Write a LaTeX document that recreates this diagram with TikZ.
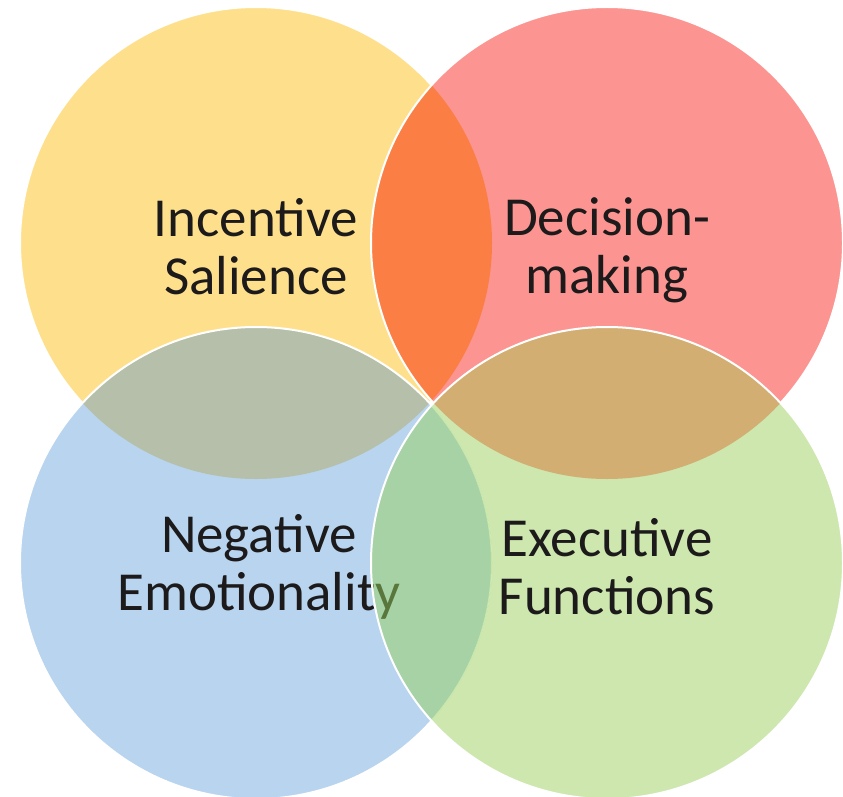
\documentclass[tikz,border=0pt]{standalone}
\usepackage{fontspec}
\setmainfont{Carlito}
\definecolor{cyellow}{HTML}{FEE08C}
\definecolor{cred}{HTML}{FC9591}
\definecolor{corange}{HTML}{FB7F45}
\definecolor{cblue}{HTML}{B8D4EE}
\definecolor{cgrey}{HTML}{B6BFA9}
\definecolor{cgreen}{HTML}{CDE7AF}
\definecolor{ctan}{HTML}{D2AE72}
\definecolor{cveil}{RGB}{150,210,94}
\definecolor{ctext}{HTML}{1C1A1A}
\begin{document}
\begin{tikzpicture}[x=1pt,y=-1pt,
  rim/.style={draw=white,line width=2pt},
  label/.style={align=center,text=ctext,font=\fontsize{55}{58}\selectfont,inner sep=0pt}]
\useasboundingbox[fill=white] (0,0) rectangle (843,797);
\def\R{236}
\coordinate (cy) at (256,243);
\coordinate (cr) at (607,243);
\coordinate (cb) at (256,563);
\coordinate (cg) at (607,563);
% yellow
\fill[cyellow] (cy) circle (\R);
\draw[rim] (cy) circle (\R);
% red
\fill[cred] (cr) circle (\R);
\begin{scope}\clip (cy) circle (\R); \fill[corange] (cr) circle (\R);\end{scope}
\draw[rim] (cr) circle (\R);
% blue
\fill[cblue] (cb) circle (\R);
\begin{scope}\clip (cy) circle (\R); \fill[cgrey] (cb) circle (\R);\end{scope}
\draw[rim] (cb) circle (\R);
% label of the blue circle, partly under the translucent green circle
\node[label] (neg) at (259,567) {Negative\\Emotionality};
% green
\begin{scope}[even odd rule]
  \clip (-10,-10) rectangle (853,807) (cb) circle (\R);
  \fill[cgreen] (cg) circle (\R);
\end{scope}
\begin{scope}\clip (cb) circle (\R); \fill[cveil,opacity=0.5] (cg) circle (\R);\end{scope}
\begin{scope}\clip (cr) circle (\R); \fill[ctan] (cg) circle (\R);\end{scope}
\draw[rim] (cg) circle (\R);
% other labels
\node[label] (inc) at (256,247) {Incentive\\Salience};
\node[label] (dec) at (607,250) {Decision-\\making};
\node[label] (exe) at (607,567) {Executive\\Functions};
\end{tikzpicture}
\end{document}
